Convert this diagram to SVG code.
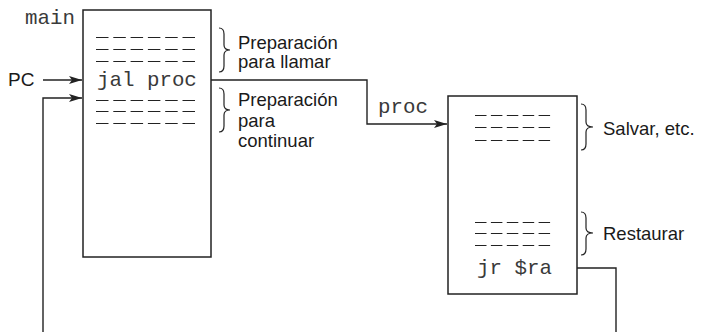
<svg xmlns="http://www.w3.org/2000/svg" width="703" height="332" viewBox="0 0 703 332">
<style>
.box{fill:#fff;stroke:#222;stroke-width:1.5}
.mono{font-family:"Liberation Mono","DejaVu Sans Mono",monospace;font-size:20.8px;fill:#3a3a3a}
.lbl{font-family:"Liberation Sans","DejaVu Sans",sans-serif;font-size:18.5px;fill:#1a1a1a}
.dash{stroke:#222;stroke-width:1}
.d6{stroke-dasharray:12.5 4.8}
.d5{stroke-dasharray:11.5 4.4}
.brace{fill:none;stroke:#222;stroke-width:1.2}
.conn{fill:none;stroke:#222;stroke-width:1.4}
</style>
<defs>
<marker id="arr" markerWidth="13" markerHeight="10" refX="13" refY="5" orient="auto" markerUnits="userSpaceOnUse">
<path d="M0,1 L13,5 L0,9 L3,5 Z" fill="#222"/>
</marker>
</defs>
<g id="connectors">
<line class="conn" x1="43" y1="80" x2="82" y2="80" marker-end="url(#arr)"/>
<path class="conn" d="M43,332 L43,98 L82,98" marker-end="url(#arr)"/>
<path class="conn" d="M211,80 L367,80 L367,124 L447,124" marker-end="url(#arr)"/>
<path class="conn" d="M577,268 L616,268 L616,332"/>
</g>
<g id="main">
<text class="mono" x="75" y="24" text-anchor="end">main</text>
<rect class="box" x="83" y="10" width="128" height="247"/>
<line class="dash d6" x1="96" y1="37.5" x2="196" y2="37.5"/>
<line class="dash d6" x1="96" y1="49.5" x2="196" y2="49.5"/>
<line class="dash d6" x1="96" y1="61.5" x2="196" y2="61.5"/>
<text class="mono" x="97" y="86">jal proc</text>
<line class="dash d6" x1="96" y1="100.5" x2="196" y2="100.5"/>
<line class="dash d6" x1="96" y1="111.5" x2="196" y2="111.5"/>
<line class="dash d6" x1="96" y1="123.5" x2="196" y2="123.5"/>
</g>
<g id="pc">
<text class="lbl" x="8" y="86" style="font-size:19px">PC</text>
</g>
<g id="brace-llamar">
<path class="brace" d="M219,28 Q224,28 224,34 L224,45 Q224,50 230,50 Q224,50 224,55 L224,66 Q224,72 219,72"/>
<text class="lbl" x="238" y="49">Preparación</text>
<text class="lbl" x="238" y="68">para llamar</text>
</g>
<g id="brace-continuar">
<path class="brace" d="M219,88 Q224,88 224,94 L224,105 Q224,110 230,110 Q224,110 224,115 L224,126 Q224,132 219,132"/>
<text class="lbl" x="238" y="106">Preparación</text>
<text class="lbl" x="238" y="127">para</text>
<text class="lbl" x="238" y="147">continuar</text>
</g>
<g id="proc">
<text class="mono" x="378" y="113">proc</text>
<rect class="box" x="448" y="96" width="129" height="198"/>
<line class="dash d5" x1="475" y1="115.5" x2="551" y2="115.5"/>
<line class="dash d5" x1="475" y1="127.5" x2="551" y2="127.5"/>
<line class="dash d5" x1="475" y1="140.5" x2="551" y2="140.5"/>
<line class="dash d5" x1="475" y1="222.5" x2="551" y2="222.5"/>
<line class="dash d5" x1="475" y1="233.5" x2="551" y2="233.5"/>
<line class="dash d5" x1="475" y1="245.5" x2="551" y2="245.5"/>
<text class="mono" x="477" y="274">jr $ra</text>
</g>
<g id="brace-salvar">
<path class="brace" d="M581,104 Q586,104 586,110 L586,122 Q586,127 593,127 Q586,127 586,132 L586,144 Q586,150 581,150"/>
<text class="lbl" x="603" y="135">Salvar, etc.</text>
</g>
<g id="brace-restaurar">
<path class="brace" d="M581,212 Q586,212 586,218 L586,228 Q586,233 593,233 Q586,233 586,238 L586,249 Q586,255 581,255"/>
<text class="lbl" x="603" y="240">Restaurar</text>
</g>
</svg>
